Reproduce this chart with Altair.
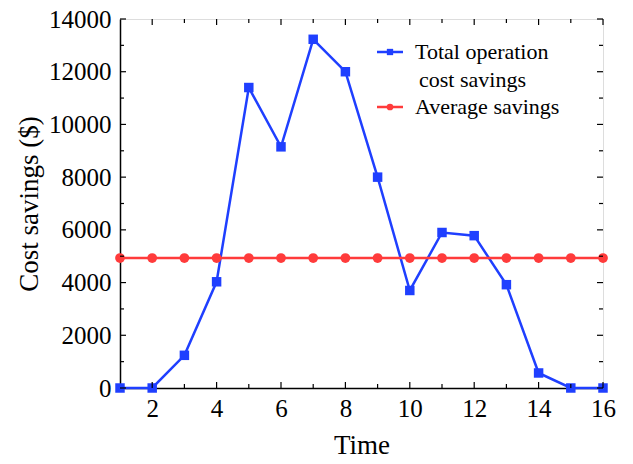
import altair as alt
import pandas as pd

# ---- data ----
time = list(range(1, 17))
total_savings = [0, 0, 1240, 4030, 11400, 9150, 13230, 12000, 8000, 3700, 5900, 5780, 3920, 570, 0, 0]
average_value = 4932
average_savings = [average_value] * 16

x_major = [2, 4, 6, 8, 10, 12, 14, 16]
x_minor = [3, 5, 7, 9, 11, 13, 15]
y_major = [0, 2000, 4000, 6000, 8000, 10000, 12000, 14000]
y_minor = [1000, 3000, 5000, 7000, 9000, 11000, 13000]

legend_labels = ["Total operation", "cost savings", "Average savings"]

BLUE = "#1f3fff"
RED = "#ff3b3b"
FONT = "Liberation Serif"
W, H = 483, 369

df = pd.DataFrame({"time": time, "total": total_savings, "avg": average_savings})

xs = alt.Scale(domain=[1, 16], nice=False, zero=False)
ys = alt.Scale(domain=[0, 14000], nice=False)

x_axis = alt.Axis(values=x_major, title="Time", labelPadding=8, titlePadding=11,
                  labelFlush=False)
y_axis = alt.Axis(values=y_major, title="Cost savings ($)", labelPadding=9,
                  titlePadding=5, format="d")

base = alt.Chart(df)

blue_line = base.mark_line(color=BLUE, strokeWidth=2.5).encode(
    x=alt.X("time:Q", scale=xs, axis=x_axis),
    y=alt.Y("total:Q", scale=ys, axis=y_axis),
)
blue_pts = base.mark_point(shape="square", filled=True, size=90, color=BLUE, opacity=1).encode(
    x=alt.X("time:Q", scale=xs, axis=x_axis), y=alt.Y("total:Q", scale=ys, axis=y_axis))
red_line = base.mark_line(color=RED, strokeWidth=2.5).encode(
    x=alt.X("time:Q", scale=xs, axis=x_axis), y=alt.Y("avg:Q", scale=ys, axis=y_axis))
red_pts = base.mark_point(shape="circle", filled=True, size=95, color=RED, opacity=1).encode(
    x=alt.X("time:Q", scale=xs, axis=x_axis), y=alt.Y("avg:Q", scale=ys, axis=y_axis))


def xticks(vals, length):
    d = alt.Chart(pd.DataFrame({"v": vals}))
    bottom = d.mark_rule(color="black", strokeWidth=1.2).encode(
        x=alt.X("v:Q", scale=xs, axis=x_axis), y=alt.value(H), y2=alt.value(H - length))
    top = d.mark_rule(color="black", strokeWidth=1.2).encode(
        x=alt.X("v:Q", scale=xs, axis=x_axis), y=alt.value(0), y2=alt.value(length))
    return [bottom, top]


def yticks(vals, length):
    d = alt.Chart(pd.DataFrame({"v": vals}))
    left = d.mark_rule(color="black", strokeWidth=1.2).encode(
        y=alt.Y("v:Q", scale=ys, axis=y_axis), x=alt.value(0), x2=alt.value(length))
    right = d.mark_rule(color="black", strokeWidth=1.2).encode(
        y=alt.Y("v:Q", scale=ys, axis=y_axis), x=alt.value(W), x2=alt.value(W - length))
    return [left, right]


ticks = xticks(x_major, 6) + xticks(x_minor, 4) + yticks(y_major, 6) + yticks(y_minor, 4)

# ---- custom legend ----
one = alt.Chart(pd.DataFrame({"a": [0]}))
leg_blue_line = one.mark_rule(color=BLUE, strokeWidth=2.5).encode(
    x=alt.value(257), x2=alt.value(283), y=alt.value(33))
leg_blue_pt = one.mark_point(shape="square", filled=True, size=40, color=BLUE, opacity=1).encode(
    x=alt.value(270), y=alt.value(33))
leg_red_line = one.mark_rule(color=RED, strokeWidth=2.5).encode(
    x=alt.value(257), x2=alt.value(283), y=alt.value(88))
leg_red_pt = one.mark_point(shape="circle", filled=True, size=45, color=RED, opacity=1).encode(
    x=alt.value(270), y=alt.value(88))


def leg_text(txt, x, y):
    return one.mark_text(text=txt, font=FONT, fontSize=22, align="left",
                         baseline="middle", color="black").encode(
        x=alt.value(x), y=alt.value(y))


legend = [leg_blue_line, leg_blue_pt, leg_red_line, leg_red_pt,
          leg_text(legend_labels[0], 295, 33),
          leg_text(legend_labels[1], 299, 61),
          leg_text(legend_labels[2], 295, 88)]

chart = alt.layer(blue_line, red_line, red_pts, blue_pts, *ticks, *legend).properties(
    width=W, height=H,
    autosize=alt.AutoSizeParams(type="none"),
    padding={"left": 112, "top": 11, "right": 22, "bottom": 76},
).configure_view(stroke="black", strokeWidth=1.5).configure(
    background="white"
).configure_axis(
    tickSize=0, grid=False,
    labelFont=FONT, labelFontSize=25, labelColor="black",
    domainColor="black", domainWidth=1.5,
    titleFont=FONT, titleFontSize=27, titleFontWeight="normal", titleColor="black",
)

chart.save("out.html", embed_options={"renderer": "svg", "actions": False})
